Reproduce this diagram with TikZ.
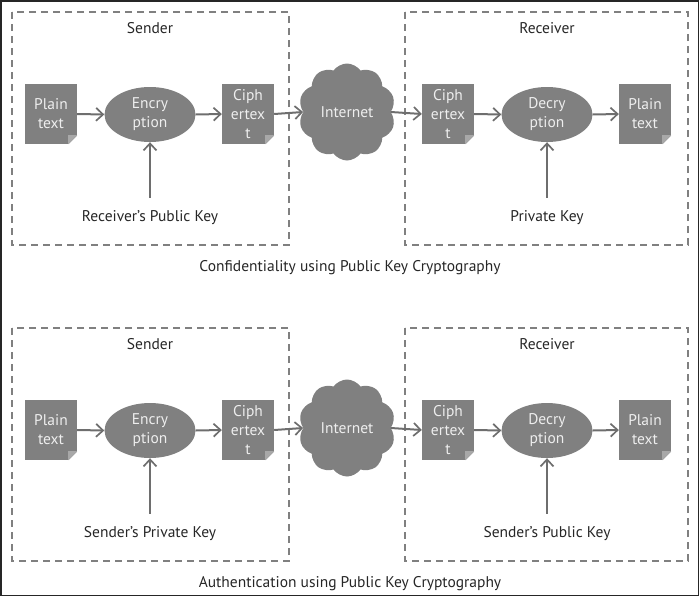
\documentclass[tikz,border=0pt]{standalone}
\usepackage{fontspec}
\setmainfont{PT Sans}
\usetikzlibrary{shapes.geometric,shapes.symbols,arrows.meta,calc}
\definecolor{boxgray}{HTML}{808080}
\definecolor{linegray}{HTML}{6E6E6E}
\definecolor{foldgray}{HTML}{A8A8A8}
\definecolor{txtlight}{HTML}{EEEEEE}
\tikzset{
  docbox/.style={fill=boxgray, minimum width=52pt, minimum height=60pt, inner sep=0pt,
    text=txtlight, align=center, font=\fontsize{15.5}{19}\selectfont},
  procbox/.style={ellipse, fill=boxgray, minimum width=91pt, minimum height=55pt, inner sep=0pt,
    text=txtlight, align=center, font=\fontsize{15.5}{19}\selectfont},
  netcloud/.style={cloud, cloud puffs=10, cloud puff arc=110, aspect=1, fill=boxgray, minimum width=97pt,
    minimum height=97pt, inner sep=0pt, text=txtlight, font=\fontsize{15.5}{18}\selectfont},
  flow/.style={draw=linegray, line width=2pt, -{Straight Barb[length=7pt,width=13pt,line width=1.7pt]}},
  region/.style={draw=boxgray, line width=1.3pt, dash pattern=on 7pt off 5pt},
  lbl/.style={font=\fontsize{15.5}{18}\selectfont, text=black!85, inner sep=0pt},
}
\newcommand\docfold[1]{%
  \fill[white] ($(#1.south east)+(-9,0.5)$) -- ($(#1.south east)+(0.5,0.5)$) -- ($(#1.south east)+(0.5,-9)$) -- cycle;
  \fill[foldgray] ($(#1.south east)+(-9,0)$) -- ($(#1.south east)+(0,-9)$) -- ($(#1.south east)+(-9,-9)$) -- cycle;
}
\newcommand\drawpanel[5]{%
  \begin{scope}[yshift=#2]
    \draw[region] (12,12) rectangle (289,245);
    \draw[region] (405,12) rectangle (688,245);
    \node[lbl] (#1snd) at (150,28) {Sender};
    \node[lbl] (#1rcv) at (547,28) {Receiver};
    \node[docbox] (#1pa) at (51,114) {Plain\\text};
    \node[procbox] (#1enc) at (150,114.5) {Encry\\ption};
    \node[docbox] (#1ca) at (248,114) {Ciph\\ertex\\t};
    \node[netcloud] (#1net) at (347,112) {Internet};
    \node[docbox] (#1cb) at (448,114) {Ciph\\ertex\\t};
    \node[procbox] (#1dec) at (547,114.5) {Decry\\ption};
    \node[docbox] (#1pb) at (645,114) {Plain\\text};
    \docfold{#1pa}\docfold{#1ca}\docfold{#1cb}\docfold{#1pb}
    \node[lbl] (#1ka) at (150,218) {#3};
    \node[lbl] (#1kb) at (547,218) {#4};
    \node[lbl] (#1cap) at (350,268) {#5};
    \draw[flow] (#1pa.east) -- (#1enc.west);
    \draw[flow] (#1enc.east) -- (#1ca.west);
    \draw[flow] (#1ca.east) -- (#1net.west);
    \draw[flow] (#1net.east) -- (#1cb.west);
    \draw[flow] (#1cb.east) -- (#1dec.west);
    \draw[flow] (#1dec.east) -- (#1pb.west);
    \draw[flow] ([yshift=13pt]#1ka.north) -- (#1enc.south);
    \draw[flow] ([yshift=13pt]#1kb.north) -- (#1dec.south);
  \end{scope}
}
\begin{document}
\begin{tikzpicture}[x=1pt,y=-1pt]
\useasboundingbox (0,0) rectangle (700,597);
\draw[line width=1.5pt, draw=black!85] (1,1) rectangle (698.5,595.5);
\drawpanel{t}{0pt}{Receiver’s Public Key}{Private Key}{Confidentiality using Public Key Cryptography}
\drawpanel{b}{-316pt}{Sender’s Private Key}{Sender’s Public Key}{Authentication using Public Key Cryptography}
\end{tikzpicture}
\end{document}
